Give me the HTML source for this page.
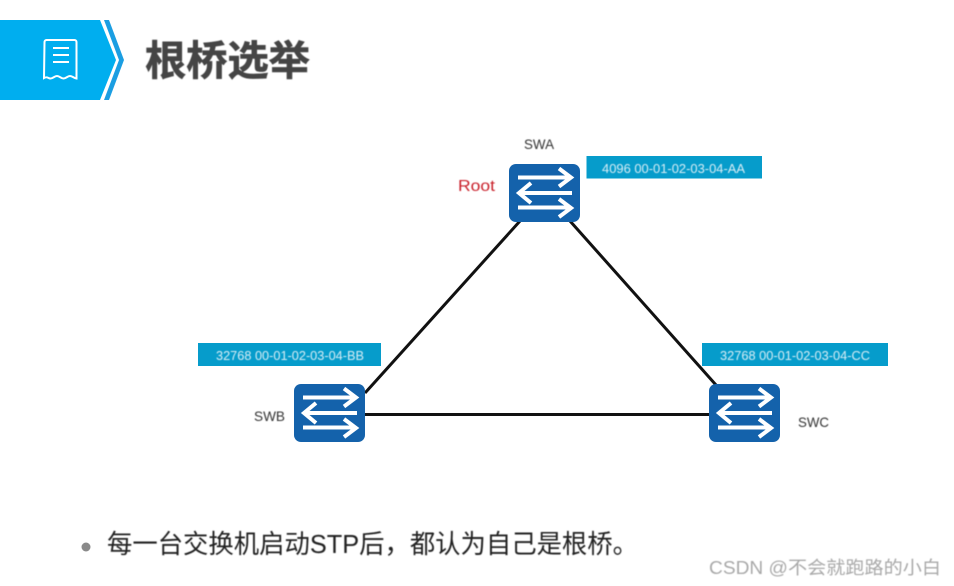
<!DOCTYPE html>
<html><head><meta charset="utf-8"><style>
html,body{margin:0;padding:0;background:#fff}
svg{display:block}
text{font-family:"Liberation Sans","Noto Sans CJK SC",sans-serif}
</style></head><body>
<svg width="954" height="586" viewBox="0 0 954 586" xmlns="http://www.w3.org/2000/svg">
<defs>
<g id="sw">
<rect x="0" y="0" width="71" height="58" rx="7" fill="#1462ab"/>
<g fill="none" stroke="#fff" stroke-width="4">
<path d="M9 13.500H61"/><path d="M50 4.500L62 13.500L50 22.500"/>
<path d="M63 29H11"/><path d="M22 19L10 29L22 39"/>
<path d="M9 43.500H61"/><path d="M50 35L62 44L50 53"/>
</g>
</g>
<filter id="b"><feGaussianBlur stdDeviation="0.4"/></filter>
</defs>
<polygon points="0,20 100,20 116,60 100,100 0,100" fill="#00aeef"/>
<polygon points="104,20 109,20 124,60 109,100 104,100 119,60" fill="#1b9ee2"/>
<path d="M44.500 42a2 2 0 0 1 2-2h28a2 2 0 0 1 2 2v36.500c-3-.5-4-2.500-6.500-2.500s-4 2.500-6.500 2.500-4-2.500-6.500-2.500-4 2.500-6.500 2.500-3-2.500-6.500-.5z" fill="none" stroke="#fff" stroke-width="2"/>
<path d="M53 48H69M53 55H69M53 62H69" stroke="#fff" stroke-width="2"/>
<text x="145" y="75" font-size="41" font-weight="700" fill="#444" stroke="#444" stroke-width="0.600" filter="url(#b)" textLength="165" lengthAdjust="spacingAndGlyphs">根桥选举</text>

<g stroke="#111" stroke-width="3" fill="none">
<line x1="520" y1="221" x2="365" y2="393"/>
<line x1="570" y1="221" x2="716" y2="385"/>
<line x1="364" y1="414.500" x2="710" y2="414.500"/>
</g>
<use href="#sw" x="509" y="164"/>
<use href="#sw" x="294" y="384"/>
<use href="#sw" x="709" y="384"/>

<rect x="586.500" y="156" width="175.500" height="22.500" fill="#069ccb"/>
<rect x="198" y="343" width="183" height="23" fill="#069ccb"/>
<rect x="702" y="343" width="186" height="23" fill="#069ccb"/>
<g font-size="12.500" fill="#d8eef6" filter="url(#b)">
<text x="602" y="173" textLength="143" lengthAdjust="spacingAndGlyphs">4096 00-01-02-03-04-AA</text>
<text x="216" y="360" textLength="148" lengthAdjust="spacingAndGlyphs">32768 00-01-02-03-04-BB</text>
<text x="720" y="360" textLength="150" lengthAdjust="spacingAndGlyphs">32768 00-01-02-03-04-CC</text>
</g>
<g font-size="14" fill="#333" filter="url(#b)">
<text x="524" y="149" textLength="30" lengthAdjust="spacingAndGlyphs">SWA</text>
<text x="254" y="421" textLength="31" lengthAdjust="spacingAndGlyphs">SWB</text>
<text x="798" y="427" textLength="31" lengthAdjust="spacingAndGlyphs">SWC</text>
</g>
<text x="458" y="191" font-size="16" fill="#c9202c" textLength="37" lengthAdjust="spacingAndGlyphs" filter="url(#b)">Root</text>

<circle cx="86" cy="547" r="4.500" fill="#8a8a8a"/>
<text x="107" y="553" font-size="26" fill="#222" textLength="531" lengthAdjust="spacingAndGlyphs" filter="url(#b)">每一台交换机启动STP后，都认为自己是根桥。</text>
<text x="709" y="574" font-size="18" fill="#a9a9a9" textLength="232" lengthAdjust="spacingAndGlyphs" filter="url(#b)">CSDN @不会就跑路的小白</text>
</svg>
</body></html>
